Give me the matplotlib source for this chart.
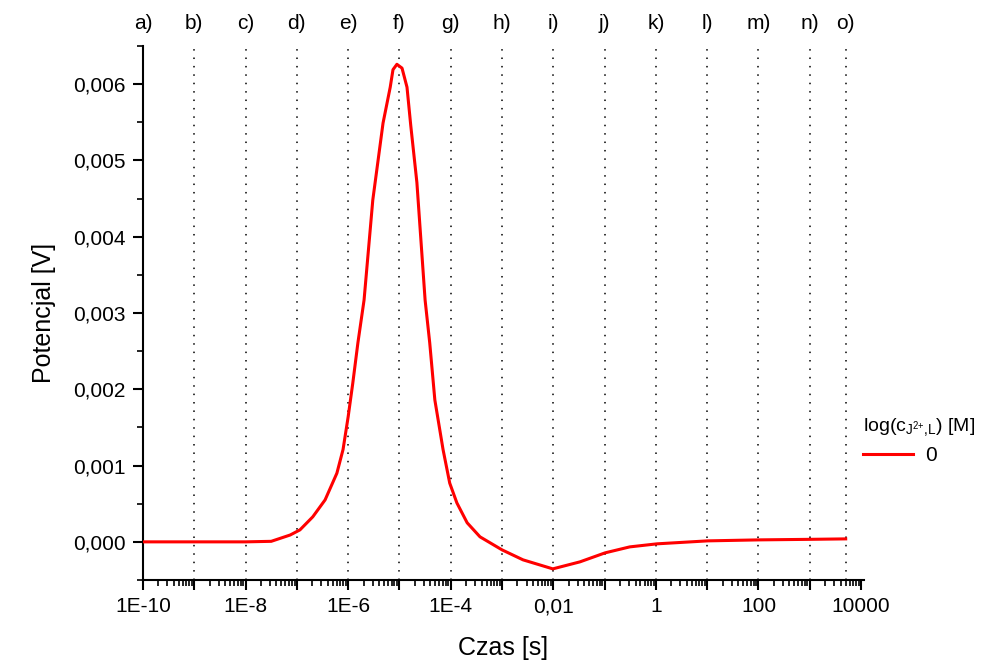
import numpy as np
import matplotlib
matplotlib.use("Agg")
from matplotlib import pyplot as plt
from matplotlib.ticker import FixedLocator, FuncFormatter, MultipleLocator, LogLocator, NullFormatter

plt.rcParams["font.family"] = ["Liberation Sans", "DejaVu Sans"]
plt.rcParams["mathtext.fontset"] = "custom"
plt.rcParams["mathtext.rm"] = "Liberation Sans"
plt.rcParams["mathtext.it"] = "Liberation Sans"

# curve: log10(time) and potential
log_t = [-10.0, -8.0, -7.5, -7.13, -6.94, -6.69, -6.45, -6.22, -6.10, -6.00, -5.91,
         -5.81, -5.69, -5.52, -5.32, -5.18, -5.126, -5.05, -4.95, -4.853, -4.78, -4.66,
         -4.50, -4.41, -4.31, -4.15, -4.02, -3.88, -3.68, -3.43, -3.00, -2.59, -2.01,
         -1.48, -0.99, -0.51, 0.02, 1.01, 2.01, 3.00, 3.70]
potential = [0.0, 0.0, 0.000007, 0.00009, 0.000157, 0.000328, 0.00055, 0.0009, 0.00121,
             0.00164, 0.00208, 0.00261, 0.00317, 0.00448, 0.00549, 0.00596, 0.00619,
             0.00626, 0.00621, 0.00596, 0.00546, 0.00471, 0.00317, 0.00261, 0.00186,
             0.00121, 0.00077, 0.00051, 0.00025, 0.000066, -0.000105, -0.000236,
             -0.000354, -0.000262, -0.000144, -0.000066, -0.000026, 0.000013, 0.000026,
             0.000033, 0.000039]

marker_times = [1e-10, 1e-9, 1e-8, 1e-7, 1e-6, 1e-5, 1e-4, 1e-3, 1e-2, 1e-1, 1, 10, 100, 1000, 5000]
marker_labels = ["a)", "b)", "c)", "d)", "e)", "f)", "g)", "h)", "i)", "j)", "k)", "l)", "m)", "n)", "o)"]

x_ticks = [1e-10, 1e-9, 1e-8, 1e-7, 1e-6, 1e-5, 1e-4, 1e-3, 1e-2, 1e-1, 1, 10, 100, 1000, 10000]
x_tick_labels = ["1E-10", "", "1E-8", "", "1E-6", "", "1E-4", "", "0,01", "", "1", "", "100", "", "10000"]

legend_title = r"log(c$_{\mathregular{J^{2{+}}{,}L}}$) [M]"
series_name = "0"

fig = plt.figure(figsize=(9.81, 6.62), dpi=100)
ax = fig.add_axes([143 / 981, 1 - 580 / 662, (864 - 143) / 981, (580 - 46) / 662])

t = 10 ** np.array(log_t)
ax.plot(t, potential, color="#ff0000", lw=2.2, label=series_name, zorder=3,
        solid_joinstyle="round")

for xt in marker_times:
    ax.axvline(xt, color="black", lw=1.1, ls=(0, (1, 4.5)), zorder=1)
for xt, lab in zip(marker_times, marker_labels):
    ax.text(xt, 1.043, lab, transform=ax.get_xaxis_transform(), ha="center", va="center", fontsize=15)

ax.set_xscale("log")
ax.set_xlim(1e-10, 10 ** 4.057)
ax.set_ylim(-0.0005, 0.0065)

ax.xaxis.set_major_locator(FixedLocator(x_ticks))
ax.set_xticklabels(x_tick_labels)
ax.xaxis.set_minor_locator(LogLocator(base=10, subs=np.arange(2, 10), numticks=100))
ax.xaxis.set_minor_formatter(NullFormatter())

ax.yaxis.set_major_locator(MultipleLocator(0.001))
ax.yaxis.set_minor_locator(MultipleLocator(0.0005))
ax.yaxis.set_major_formatter(FuncFormatter(lambda v, p: ("%.3f" % v).replace(".", ",").replace("-0,000", "0,000")))

for s in ["top", "right"]:
    ax.spines[s].set_visible(False)
for s in ["left", "bottom"]:
    ax.spines[s].set_linewidth(1.5)
ax.tick_params(which="major", direction="out", length=7.5, width=1.5, labelsize=15, pad=5)
ax.tick_params(which="minor", direction="out", length=4.5, width=1.2)

ax.set_xlabel("Czas [s]", fontsize=18, labelpad=14)
ax.set_ylabel("Potencjal [V]", fontsize=18, labelpad=12)

leg = ax.legend(loc="upper left", bbox_to_anchor=(861 / 981, 1 - 414 / 662), bbox_transform=fig.transFigure,
                frameon=False, fontsize=15, title=legend_title, title_fontsize=14,
                handlelength=2.4, handletextpad=0.6, borderaxespad=0, borderpad=0.1,
                labelspacing=0.6)
leg._legend_box.align = "left"
leg._legend_box.sep = 6

fig.savefig("out.png", dpi=100)
